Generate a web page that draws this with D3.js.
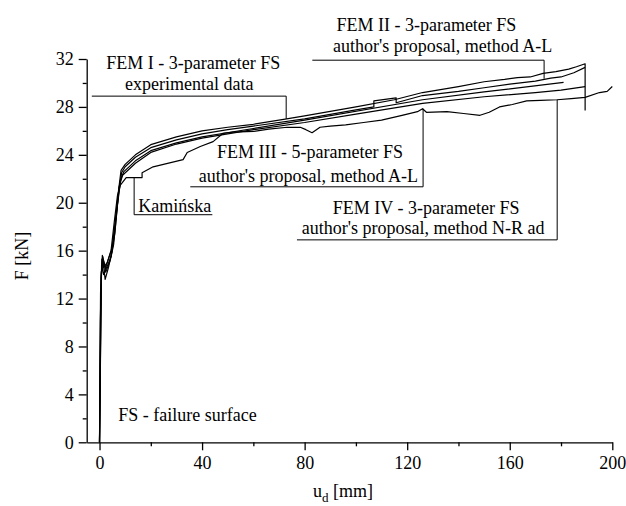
<!DOCTYPE html>
<html>
<head>
<meta charset="utf-8">
<script src="https://cdn.jsdelivr.net/npm/d3@7"></script>
<style>
body { margin: 0; background: #fff; }
text { font-family: "Liberation Serif", "Times New Roman", serif; fill: #000; }
</style>
</head>
<body>
<script>
var width = 626;
var height = 506;
var margin = {left: 86.7, right: 13.7, top: 59, bottom: 63.7};

// tick values
var xMajor = [0, 40, 80, 120, 160, 200];
var xMinor = [20, 60, 100, 140, 180];
var yMajor = [0, 4, 8, 12, 16, 20, 24, 28, 32];
var yMinor = [2, 6, 10, 14, 18, 22, 26, 30];

// curves, [u_d mm, F kN]
var femII = [[0,0],[0.4,12.5],[1.1,15.6],[2.2,13.6],[3.5,14.6],[4.8,15.9],[6.2,18.5],[7.4,21.0],[8.4,22.7],[10,23.2],[14,24.0],[20,24.85],[30,25.5],[40,26.0],[50,26.3],[60,26.55],[73,27.0],[80,27.25],[100,28.0],[115,28.6],[126,29.2],[140,29.7],[150,30.1],[158,30.3],[163,30.45],[168,30.5],[173,30.8],[178,30.95],[183,31.15],[186,31.35],[189.4,31.6],[189.4,27.7]];
var femI = [[0,0],[0.6,13.8],[1.3,15.5],[2.4,14.2],[4.2,15.2],[5.5,16.5],[7.0,19.8],[8.6,22.5],[10,23.0],[14,23.8],[20,24.6],[30,25.25],[40,25.75],[50,26.1],[60,26.4],[80,27.0],[100,27.75],[107,28.0],[107,28.5],[115.7,28.75],[115.7,28.35],[126,28.95],[140,29.3],[150,29.6],[160,29.9],[170,30.15],[176,30.4],[180,30.5],[185,30.85],[189.4,31.3]];
var femIII = [[0,0],[0.8,14.8],[1.6,14.0],[3,15.0],[5,16.3],[6.8,19.5],[8.0,21.8],[9.5,22.6],[14,23.5],[20,24.35],[30,25.0],[40,25.5],[60,26.2],[80,26.9],[126,28.6],[150,29.25],[181,30.05]];
var femIV = [[0,0],[0.7,14.2],[1.5,15.2],[2.6,14.5],[4.5,15.5],[6,17.5],[7.6,21.3],[9,22.3],[14,23.3],[20,24.2],[30,24.9],[40,25.4],[60,26.1],[80,26.7],[100,27.4],[126,28.3],[150,28.85],[170,29.2],[180,29.4],[189.4,29.7]];
var kaminska = [[0,0],[0.3,10],[0.9,15.3],[1.6,14.6],[3,15.0],[4.5,16.0],[5.8,18.5],[7.0,20.6],[8.2,21.5],[10.4,22.1],[16.6,22.1],[16.6,22.5],[20.9,23.0],[32.6,23.6],[34.2,24.2],[39.3,24.7],[44.3,25.1],[48.2,25.8],[52.2,25.9],[60,25.95],[66,26.15],[73.2,26.3],[78.3,26.3],[80.5,26.1],[82.9,25.85],[86,26.3],[90,26.4],[96,26.5],[103,26.7],[110,26.9],[118,27.3],[124,27.6],[126,27.85],[127.5,27.55],[135.5,27.6],[142,27.45],[148.4,27.3],[152,27.55],[156,28.0],[161,28.2],[166.6,28.5],[172,28.55],[178.5,28.6],[184,28.7],[189.4,28.8],[195,29.2],[198,29.3],[200,29.7]];

var curves = [femII, femI, femIII, femIV, kaminska];

// annotation texts and leader lines (data units)
var labels = [
    {text: "FEM I - 3-parameter FS", x: 36.6, y: 31.2, anchor: "middle"},
    {text: "experimental data", x: 35.0, y: 29.4, anchor: "middle"},
    {text: "FEM II - 3-parameter FS", x: 127.5, y: 34.3, anchor: "middle"},
    {text: "author's proposal, method A-L", x: 133.8, y: 32.6, anchor: "middle"},
    {text: "FEM III - 5-parameter FS", x: 82.1, y: 23.75, anchor: "middle"},
    {text: "author's proposal, method A-L", x: 81.5, y: 21.75, anchor: "middle"},
    {text: "FEM IV - 3-parameter FS", x: 127.4, y: 19.1, anchor: "middle"},
    {text: "author's proposal, method N-R ad", x: 126.2, y: 17.4, anchor: "middle"},
    {text: "Kamińska", x: 15.1, y: 19.2, anchor: "start"},
    {text: "FS - failure surface", x: 7.3, y: 1.8, anchor: "start"}
];
var leaders = [
    [[-3, 28.9], [72.8, 28.9], [72.8, 27.0]],
    [[83, 31.9], [173.4, 31.9], [173.4, 30.35]],
    [[35.4, 21.33], [126.2, 21.33], [126.2, 27.85]],
    [[77, 16.9], [178.5, 16.9], [178.5, 28.6]],
    [[44, 19.0], [13.5, 19.0], [13.5, 22.1]]
];

var svg = d3.select("body")
    .append("svg")
    .attr("width", width)
    .attr("height", height);

svg.append("rect")
    .attr("width", width)
    .attr("height", height)
    .attr("fill", "#fff");

var x = d3.scaleLinear()
    .domain([-5, 200])
    .range([margin.left, width - margin.right]);

var y = d3.scaleLinear()
    .domain([0, 32])
    .range([height - margin.bottom, margin.top]);

// minor ticks first, then labelled axes on top
svg.append("g")
    .attr("transform", "translate(0," + y(0) + ")")
    .call(d3.axisBottom(x).tickValues(xMinor).tickSize(4).tickSizeOuter(0).tickFormat(""))
    .call(function(g) { g.select(".domain").remove(); });

svg.append("g")
    .attr("transform", "translate(" + x(-5) + ",0)")
    .call(d3.axisLeft(y).tickValues(yMinor).tickSize(4).tickSizeOuter(0).tickFormat(""))
    .call(function(g) { g.select(".domain").remove(); });

var xAxis = svg.append("g")
    .attr("transform", "translate(0," + y(0) + ")")
    .call(d3.axisBottom(x).tickValues(xMajor).tickSize(8).tickPadding(6).tickSizeOuter(0));

var yAxis = svg.append("g")
    .attr("transform", "translate(" + x(-5) + ",0)")
    .call(d3.axisLeft(y).tickValues(yMajor).tickSize(8).tickPadding(5).tickSizeOuter(0));

svg.selectAll(".tick line, .domain")
    .attr("stroke", "#000")
    .attr("stroke-width", 1.3);

svg.selectAll(".tick text")
    .attr("font-family", "Liberation Serif, Times New Roman, serif")
    .attr("font-size", "18px")
    .attr("fill", "#000");

// axis titles
var xt = svg.append("text")
    .attr("x", 343)
    .attr("y", 497)
    .attr("text-anchor", "middle")
    .attr("font-size", "18px");
xt.append("tspan").text("u");
xt.append("tspan").attr("dy", 5).attr("font-size", "13px").text("d");
xt.append("tspan").attr("dy", -5).text(" [mm]");

svg.append("text")
    .attr("transform", "translate(28," + 256 + ") rotate(-90)")
    .attr("text-anchor", "middle")
    .attr("font-size", "18px")
    .text("F [kN]");

var line = d3.line()
    .x(function(d) { return x(d[0]); })
    .y(function(d) { return y(d[1]); });

svg.selectAll("path.curve")
    .data(curves)
    .enter()
    .append("path")
    .attr("class", "curve")
    .attr("d", line)
    .attr("fill", "none")
    .attr("stroke", "#000")
    .attr("stroke-width", 1.2)
    .attr("stroke-linejoin", "round");

svg.selectAll("path.leader")
    .data(leaders)
    .enter()
    .append("path")
    .attr("class", "leader")
    .attr("d", line)
    .attr("fill", "none")
    .attr("stroke", "#000")
    .attr("stroke-width", 1);

svg.selectAll("text.note")
    .data(labels)
    .enter()
    .append("text")
    .attr("class", "note")
    .attr("x", function(d) { return x(d.x); })
    .attr("y", function(d) { return y(d.y); })
    .attr("text-anchor", function(d) { return d.anchor; })
    .attr("font-size", "18px")
    .text(function(d) { return d.text; });
</script>
</body>
</html>
